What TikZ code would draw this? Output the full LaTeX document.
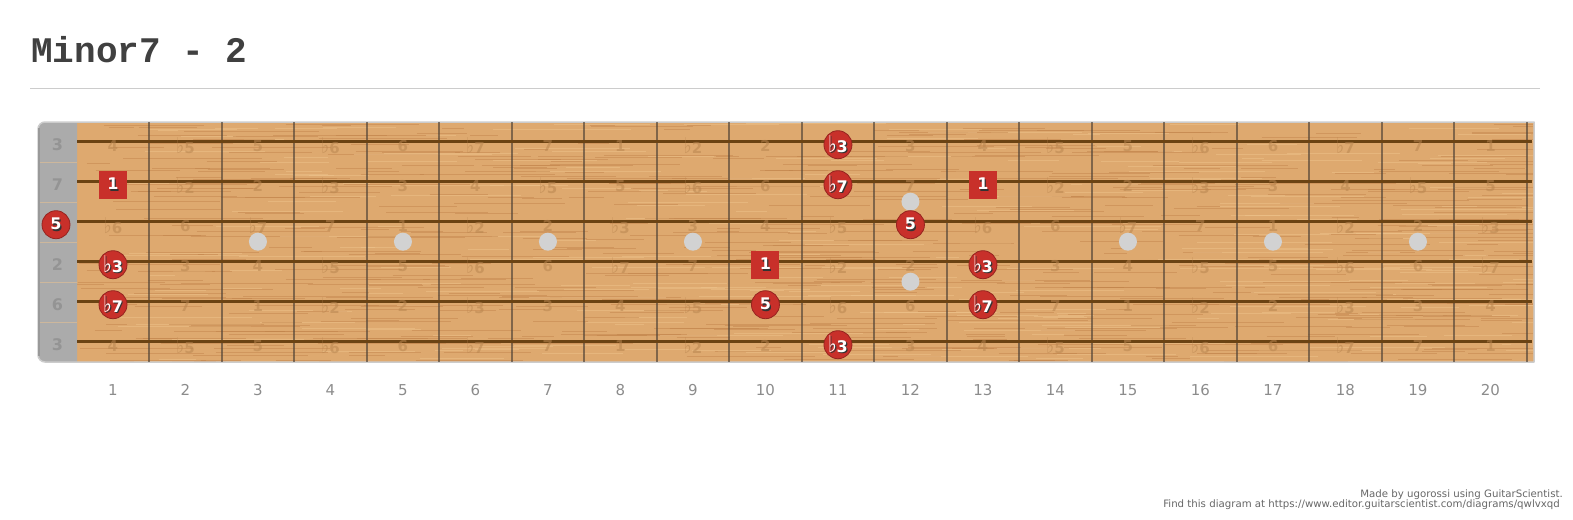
\documentclass[tikz,border=0pt]{standalone}
\usepackage{fontspec}
\setmainfont{DejaVu Sans}
\newfontfamily\titlefont{Liberation Mono}

\definecolor{wood}{HTML}{DEA96F}
\definecolor{grainD}{HTML}{BF8148}
\definecolor{grainL}{HTML}{F0C690}
\definecolor{stringc}{HTML}{6B4313}
\definecolor{fretc}{HTML}{4E4236}
\definecolor{nutc}{HTML}{ABABAB}
\definecolor{nutline}{HTML}{CDB79C}
\definecolor{notered}{HTML}{C8302A}
\definecolor{inlayc}{HTML}{D2D2D2}
\definecolor{rulec}{HTML}{CCCCCC}
\definecolor{ghostc}{HTML}{B98650}

\newcommand{\fl}{\scalebox{1.15}[1.45]{♭}}
\newcommand{\shd}[1]{\makebox[0pt][l]{\hspace{1.2pt}\raisebox{-1.2pt}{\textcolor{black!80}{#1}}}#1}

\tikzset{
  note/.style={circle, fill=notered, draw=notered!75!black, line width=0.8pt,
    minimum size=28pt, inner sep=0pt, text=white,
    font=\bfseries\fontsize{16}{16}\selectfont},
  root/.style={rectangle, fill=notered, minimum size=28pt, inner sep=0pt,
    text=white, font=\bfseries\fontsize{16}{16}\selectfont},
  ghost/.style={text=ghostc, text opacity=0.55, inner sep=0pt, font=\bfseries\fontsize{15}{15}\selectfont},
  openlab/.style={text=black!42, inner sep=0pt, font=\bfseries\fontsize{16}{16}\selectfont},
  fretnum/.style={text=black!45, inner sep=0pt, font=\fontsize{15}{15}\selectfont},
  inlay/.style={fill=inlayc},
  grain/.style={line width=0.5pt, opacity=0.45},
}

\begin{document}
\begin{tikzpicture}[x=1pt, y=-1pt, line cap=butt, line join=round]
  \useasboundingbox (0,0) rectangle (1573,519);

  % title
  \node[anchor=base west, inner sep=0pt, text=black!75,
    font=\titlefont\bfseries\fontsize{36}{36}\selectfont] (title) at (31,63) {Minor7 - 2};
  \draw[rulec, line width=1pt] (30,88.3) -- (1540,88.3);

  % fretboard
  \fill[wood] (77,122) rectangle (1534,362);
  \pgfmathsetseed{17}
  \foreach \i in {1,...,900} {
    \pgfmathsetmacro\gy{123+238*rnd}
    \pgfmathsetmacro\gx{77+1440*rnd}
    \pgfmathsetmacro\gl{min(20+120*rnd,1533-\gx)}
    \pgfmathsetmacro\gc{rnd}
    \ifdim\gc pt<0.65pt
      \draw[grain, grainD] (\gx,\gy) -- ++(\gl,0);
    \else
      \draw[grain, grainL] (\gx,\gy) -- ++(\gl,0);
    \fi
  }
  \fill[nutc] (77,122) [rounded corners=7pt] -- (38,122) -- (38,362) [sharp corners] -- (77,362) -- cycle;
  \foreach \y in {162.7,202.7,242.7,282.7,322.7}
    \draw[nutline, line width=0.6pt] (38,\y) -- (77,\y);
  \draw[rulec, line width=1.5pt] (77,122) [rounded corners=7pt] -- (38,122) -- (38,362) [sharp corners] -- (1534,362) -- (1534,122) -- cycle;
  \draw[black!40, line width=1.5pt] (39,128) -- (39,356);

  % frets
  \foreach \k in {1,...,20}
    \draw[fretc, opacity=0.65, line width=2pt] ({76.7+72.5*\k},122) -- ({76.7+72.5*\k},362);

  % strings
  \foreach \s in {1,...,6}
    \draw[stringc, line width=3pt] (77,{141.7+40*(\s-1)}) -- (1532,{141.7+40*(\s-1)});

  % inlays
  \foreach \f in {3,5,7,9,15,17,19}
    \fill[inlay] ({40.45+72.5*\f},241.7) circle (9);
  \fill[inlay] (910.45,201.7) circle (9);
  \fill[inlay] (910.45,281.7) circle (9);

  % open string names
  \foreach \s/\t in {1/3,2/7,3/5,4/2,5/6,6/3}
    \node[openlab] (open\s) at (57.5,{144.7+40*(\s-1)}) {\t};

  % faint intervals
  \foreach \s/\lst in {
      1/{4,\fl5,5,\fl6,6,\fl7,7,1,\fl2,2,\fl3,3,4,\fl5,5,\fl6,6,\fl7,7,1},
      2/{1,\fl2,2,\fl3,3,4,\fl5,5,\fl6,6,\fl7,7,1,\fl2,2,\fl3,3,4,\fl5,5},
      3/{\fl6,6,\fl7,7,1,\fl2,2,\fl3,3,4,\fl5,5,\fl6,6,\fl7,7,1,\fl2,2,\fl3},
      4/{\fl3,3,4,\fl5,5,\fl6,6,\fl7,7,1,\fl2,2,\fl3,3,4,\fl5,5,\fl6,6,\fl7},
      5/{\fl7,7,1,\fl2,2,\fl3,3,4,\fl5,5,\fl6,6,\fl7,7,1,\fl2,2,\fl3,3,4},
      6/{4,\fl5,5,\fl6,6,\fl7,7,1,\fl2,2,\fl3,3,4,\fl5,5,\fl6,6,\fl7,7,1}}
    \foreach \t [count=\f] in \lst
      \node[ghost] (g\s-\f) at ({40.45+72.5*\f},{145.7+40*(\s-1)}) {\t};

  % chord tones
  \node[note] (n0g)  at (56,224.7)       {\shd{5}};
  \node[root] (n1b)  at (113,184.7)      {\shd{1}};
  \node[note] (n1d)  at (113,264.7)      {\shd{\fl3}};
  \node[note] (n1a)  at (113,304.7)      {\shd{\fl7}};
  \node[root] (n10d) at (765.45,264.7)   {\shd{1}};
  \node[note] (n10a) at (765.45,304.7)   {\shd{5}};
  \node[note] (n11e) at (837.95,144.7)   {\shd{\fl3}};
  \node[note] (n11b) at (837.95,184.7)   {\shd{\fl7}};
  \node[note] (n11l) at (837.95,344.7)   {\shd{\fl3}};
  \node[note] (n12g) at (910.45,224.7)   {\shd{5}};
  \node[root] (n13b) at (982.95,184.7)   {\shd{1}};
  \node[note] (n13d) at (982.95,264.7)   {\shd{\fl3}};
  \node[note] (n13a) at (982.95,304.7)   {\shd{\fl7}};

  % fret numbers
  \foreach \f in {1,...,20}
    \node[fretnum] (fn\f) at ({40.45+72.5*\f},390) {\f};

  % footer
  \node[anchor=base east, inner sep=0pt, text=black!60, font=\fontsize{10.2}{10.2}\selectfont]
    (made) at (1563,497.5) {Made by ugorossi using GuitarScientist.};
  \node[anchor=base east, inner sep=0pt, text=black!60, font=\fontsize{10.2}{10.2}\selectfont]
    (find) at (1560,507) {Find this diagram at https://www.editor.guitarscientist.com/diagrams/qwlvxqd};
\end{tikzpicture}
\end{document}
